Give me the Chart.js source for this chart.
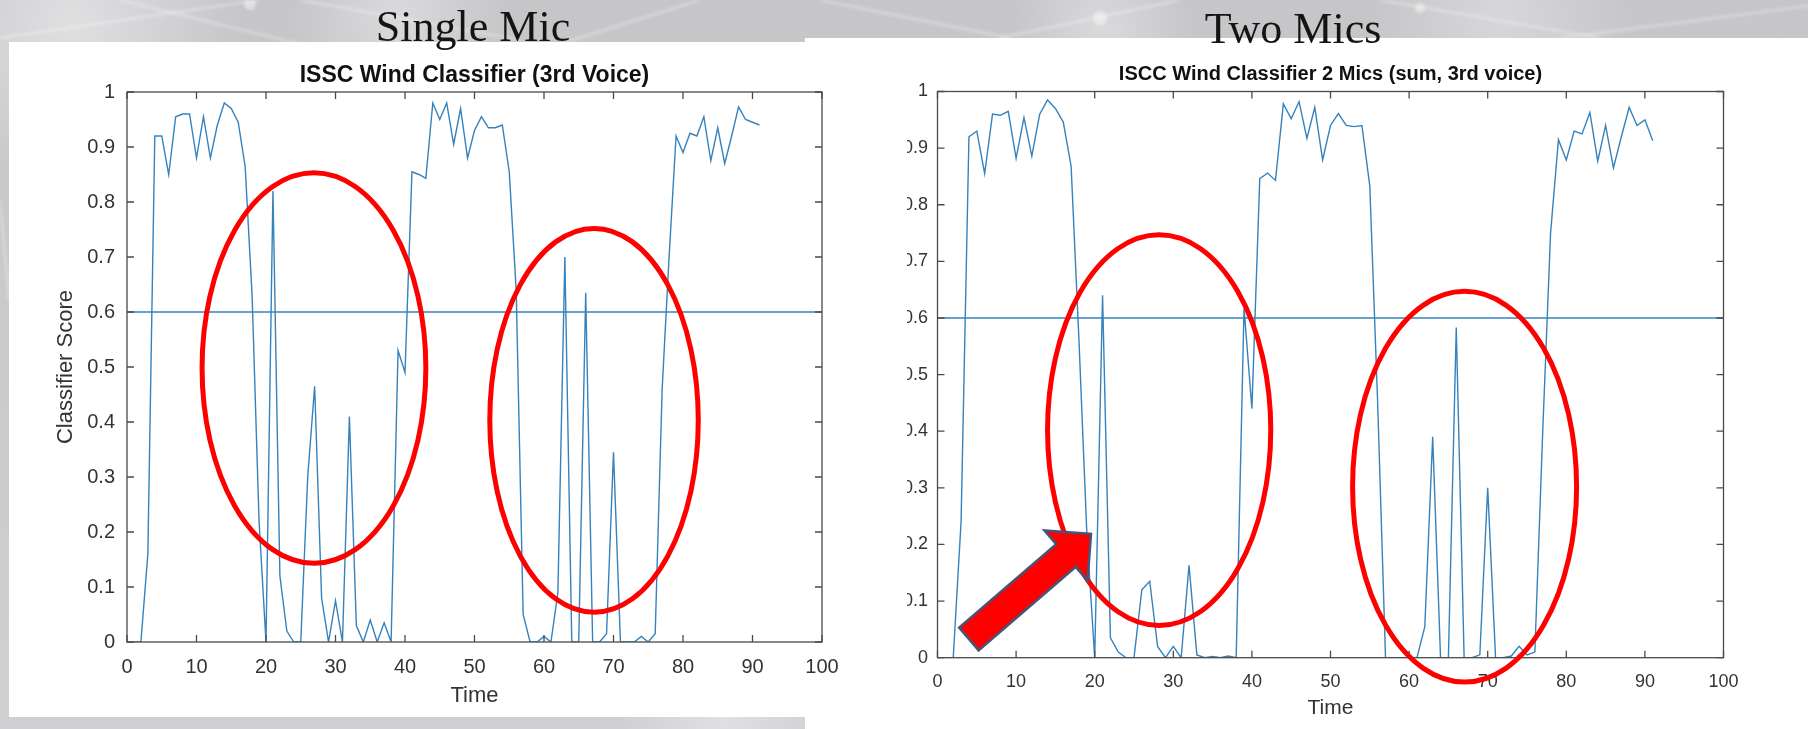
<!DOCTYPE html>
<html>
<head>
<meta charset="utf-8">
<script src="https://cdn.jsdelivr.net/npm/chart.js@4.4.1/dist/chart.umd.min.js"></script>
<style>
  html, body { margin: 0; padding: 0; width: 1808px; height: 729px; overflow: hidden; }
  body {
    position: relative;
    background:
      radial-gradient(circle at 4% 3%, rgba(255,255,255,0.45), rgba(255,255,255,0) 9%),
      radial-gradient(circle at 22% 2%, rgba(255,255,255,0.35), rgba(255,255,255,0) 7%),
      radial-gradient(circle at 61% 4%, rgba(255,255,255,0.35), rgba(255,255,255,0) 7%),
      radial-gradient(circle at 83% 2%, rgba(255,255,255,0.3), rgba(255,255,255,0) 8%),
      radial-gradient(circle at 40% 99%, rgba(255,255,255,0.35), rgba(255,255,255,0) 8%),
      linear-gradient(180deg, #c6c6c9 0%, #d0d0d3 100%);
  }
  #bg { position: absolute; left: 0; top: 0; z-index: 0; filter: blur(1.5px); }
  .panel { position: absolute; background: #ffffff; }
  #rightPanel { left: 805px; top: 38px; width: 1003px; height: 691px; z-index: 1; }
  #leftPanel { left: 9px; top: 42px; width: 898px; height: 675px; z-index: 2; }
  .panel canvas { position: absolute; left: 0; top: 0; }
  .heading {
    position: absolute; z-index: 3;
    font-family: "Liberation Serif", "DejaVu Serif", serif;
    font-size: 44px; line-height: 44px; color: #141414;
    white-space: nowrap; transform: translateX(-50%);
  }
</style>
</head>
<body>
<svg id="bg" width="1808" height="729">
  <g stroke="rgba(255,255,255,0.28)" stroke-width="3" fill="none">
    <line x1="0" y1="38" x2="260" y2="0"/>
    <line x1="120" y1="0" x2="300" y2="44"/>
    <line x1="300" y1="0" x2="520" y2="40"/>
    <line x1="560" y1="44" x2="700" y2="0"/>
    <line x1="820" y1="0" x2="1010" y2="38"/>
    <line x1="1000" y1="38" x2="1180" y2="0"/>
    <line x1="1380" y1="0" x2="1600" y2="38"/>
    <line x1="1560" y1="38" x2="1808" y2="6"/>
    <line x1="0" y1="200" x2="9" y2="300"/>
  </g>
  <g fill="rgba(255,255,255,0.45)">
    <circle cx="250" cy="4" r="6"/>
    <circle cx="1100" cy="18" r="7"/>
    <circle cx="1420" cy="8" r="5"/>
  </g>
</svg>

<div class="heading" style="left:473px; top:5px;">Single Mic</div>
<div class="heading" style="left:1293px; top:7px;">Two Mics</div>

<div id="rightPanel" class="panel"><canvas id="rightChart" width="1003" height="691"></canvas></div>
<div id="leftPanel" class="panel"><canvas id="leftChart" width="898" height="675"></canvas></div>

<script>
// ---------------- DATA ----------------
const timeSteps = [1,2,3,4,5,6,7,8,9,10,11,12,13,14,15,16,17,18,19,20,
  21,22,23,24,25,26,27,28,29,30,31,32,33,34,35,36,37,38,39,40,
  41,42,43,44,45,46,47,48,49,50,51,52,53,54,55,56,57,58,59,60,
  61,62,63,64,65,66,67,68,69,70,71,72,73,74,75,76,77,78,79,80,
  81,82,83,84,85,86,87,88,89,90,91];

const singleMicScores = [0,0,0.16,0.92,0.92,0.85,0.955,0.96,0.96,0.88,
  0.955,0.88,0.94,0.98,0.97,0.945,0.865,0.63,0.22,0,
  0.82,0.12,0.02,0,0,0.3,0.465,0.08,0,0.075,
  0,0.41,0.03,0,0.04,0,0.035,0,0.53,0.49,
  0.855,0.85,0.843,0.98,0.95,0.98,0.905,0.97,0.88,0.93,
  0.955,0.935,0.935,0.94,0.855,0.64,0.05,0,0,0.01,
  0,0.09,0.70,0,0,0.635,0,0,0.015,0.345,
  0,0,0,0.01,0,0.015,0.46,0.70,0.92,0.89,
  0.925,0.92,0.955,0.875,0.935,0.87,0.92,0.973,0.95,0.945,
  0.94];

const twoMicScores = [0,0,0.24,0.92,0.93,0.855,0.96,0.958,0.965,0.882,
  0.954,0.886,0.96,0.985,0.97,0.946,0.868,0.56,0.22,0,
  0.64,0.035,0.01,0,0,0.12,0.135,0.02,0,0.02,
  0,0.163,0.005,0,0.002,0,0.003,0,0.617,0.44,
  0.846,0.856,0.843,0.978,0.952,0.982,0.917,0.972,0.879,0.94,
  0.961,0.94,0.938,0.94,0.833,0.45,0,0,0,0,
  0,0.055,0.39,0,0,0.583,0,0,0.005,0.3,
  0,0,0.003,0.02,0.005,0.01,0.4,0.75,0.915,0.879,
  0.93,0.925,0.963,0.877,0.94,0.865,0.92,0.972,0.94,0.95,
  0.913];

const thresholdX = [0, 100];
const thresholdY = [0.6, 0.6];

const xTickValues = [0,10,20,30,40,50,60,70,80,90,100];
const xTickLabels = ['0','10','20','30','40','50','60','70','80','90','100'];
const yTickValues = [0,0.1,0.2,0.3,0.4,0.5,0.6,0.7,0.8,0.9,1];
const yTickLabels = ['0','0.1','0.2','0.3','0.4','0.5','0.6','0.7','0.8','0.9','1'];

// annotation shapes (in data units)
const leftEllipses = [ {cx:26.9, cy:0.498, rx:16.1, ry:0.355}, {cx:67.2, cy:0.403, rx:15.0, ry:0.349} ];
const rightEllipses = [ {cx:28.2, cy:0.402, rx:14.2, ry:0.345}, {cx:67.06, cy:0.302, rx:14.25, ry:0.345} ];
const rightArrow = { tailX: 4.0, tailY: 0.033, tipX: 19.53, tipY: 0.2185 };

// ---------------- STYLE ----------------
const FONT = '"Liberation Sans", Arial, Helvetica, sans-serif';
const LINE_COLOR = '#3582bd';
const AXIS_COLOR = '#4a4a4a';
const TICK_COLOR = '#333333';
const RED = '#ff0000';

function decorPlugin(cfg) {
  return {
    id: 'decor_' + cfg.id,
    afterDraw(chart) {
      const ctx = chart.ctx, a = chart.chartArea, xs = chart.scales.x, ys = chart.scales.y;
      ctx.save();
      ctx.strokeStyle = AXIS_COLOR; ctx.lineWidth = 1.3;
      ctx.strokeRect(a.left, a.top, a.right - a.left, a.bottom - a.top);
      const TL = 7;
      ctx.beginPath();
      xTickValues.forEach(v => {
        const p = xs.getPixelForValue(v);
        ctx.moveTo(p, a.bottom); ctx.lineTo(p, a.bottom - TL);
        ctx.moveTo(p, a.top); ctx.lineTo(p, a.top + TL);
      });
      yTickValues.forEach(v => {
        const p = ys.getPixelForValue(v);
        ctx.moveTo(a.left, p); ctx.lineTo(a.left + TL, p);
        ctx.moveTo(a.right, p); ctx.lineTo(a.right - TL, p);
      });
      ctx.stroke();
      const cx = (a.left + a.right) / 2;
      ctx.fillStyle = '#111111';
      ctx.textAlign = 'center'; ctx.textBaseline = 'middle';
      ctx.font = 'bold ' + cfg.titleSize + 'px ' + FONT;
      ctx.fillText(cfg.title, cx, cfg.titleY);
      ctx.fillStyle = TICK_COLOR;
      ctx.font = cfg.axisTitleSize + 'px ' + FONT;
      ctx.fillText('Time', cx, cfg.xTitleY);
      if (cfg.yTitle) {
        ctx.save();
        ctx.translate(cfg.yTitleX, (a.top + a.bottom) / 2);
        ctx.rotate(-Math.PI / 2);
        ctx.fillText(cfg.yTitle, 0, 0);
        ctx.restore();
      }
      ctx.strokeStyle = RED; ctx.lineWidth = 5;
      cfg.ellipses.forEach(e => {
        const px = xs.getPixelForValue(e.cx), py = ys.getPixelForValue(e.cy);
        const rx = Math.abs(xs.getPixelForValue(e.cx + e.rx) - px);
        const ry = Math.abs(ys.getPixelForValue(e.cy + e.ry) - py);
        ctx.beginPath(); ctx.ellipse(px, py, rx, ry, 0, 0, Math.PI * 2); ctx.stroke();
      });
      if (cfg.arrow) {
        const ar = cfg.arrow;
        const tx = xs.getPixelForValue(ar.tailX), ty = ys.getPixelForValue(ar.tailY);
        const hx = xs.getPixelForValue(ar.tipX), hy = ys.getPixelForValue(ar.tipY);
        const len = Math.hypot(hx - tx, hy - ty);
        const ux = (hx - tx) / len, uy = (hy - ty) / len;
        const nx = -uy, ny = ux;
        const sw = 15, hw = 33, hl = 33;
        const bx = hx - ux * hl, by = hy - uy * hl;
        ctx.beginPath();
        ctx.moveTo(tx + nx * sw, ty + ny * sw);
        ctx.lineTo(bx + nx * sw, by + ny * sw);
        ctx.lineTo(bx + nx * hw, by + ny * hw);
        ctx.lineTo(hx, hy);
        ctx.lineTo(bx - nx * hw, by - ny * hw);
        ctx.lineTo(bx - nx * sw, by - ny * sw);
        ctx.lineTo(tx - nx * sw, ty - ny * sw);
        ctx.closePath();
        ctx.fillStyle = RED; ctx.fill();
        ctx.strokeStyle = '#44557a'; ctx.lineWidth = 2.5; ctx.lineJoin = 'miter';
        ctx.stroke();
      }
      ctx.restore();
    }
  };
}

function makeChart(canvasId, cfg) {
  return new Chart(document.getElementById(canvasId), {
    type: 'line',
    data: {
      datasets: [
        { data: cfg.scores.map((v, i) => ({ x: timeSteps[i], y: v })),
          borderColor: LINE_COLOR, borderWidth: 1.4, pointRadius: 0, tension: 0, fill: false },
        { data: thresholdX.map((v, i) => ({ x: v, y: thresholdY[i] })),
          borderColor: LINE_COLOR, borderWidth: 1.4, pointRadius: 0, tension: 0, fill: false }
      ]
    },
    options: {
      responsive: false, animation: false, devicePixelRatio: 1,
      layout: { padding: cfg.padding },
      plugins: { legend: { display: false }, tooltip: { enabled: false }, title: { display: false } },
      scales: {
        x: {
          type: 'linear', min: 0, max: 100,
          grid: { display: false, drawTicks: false }, border: { display: false },
          afterBuildTicks: s => { s.ticks = xTickValues.map(v => ({ value: v })); },
          afterFit: s => { s.height = cfg.xHeight; },
          ticks: { autoSkip: false, maxRotation: 0, minRotation: 0, padding: cfg.xPad, color: TICK_COLOR,
                   font: { family: FONT, size: cfg.tickSize }, callback: (v, i) => xTickLabels[i] }
        },
        y: {
          type: 'linear', min: 0, max: 1,
          grid: { display: false, drawTicks: false }, border: { display: false },
          afterBuildTicks: s => { s.ticks = yTickValues.map(v => ({ value: v })); },
          afterFit: s => { s.width = cfg.yWidth; },
          ticks: { autoSkip: false, padding: cfg.yPad, color: TICK_COLOR,
                   font: { family: FONT, size: cfg.tickSize }, callback: (v, i) => yTickLabels[i] }
        }
      }
    },
    plugins: [decorPlugin(cfg)]
  });
}

makeChart('rightChart', {
  id: 'right', scores: twoMicScores,
  padding: { left: 0, right: 84.5, top: 53.5, bottom: 0 },
  xHeight: 71.3, yWidth: 132.5, xPad: 14, yPad: 9.5, tickSize: 18,
  title: 'ISCC Wind Classifier 2 Mics (sum, 3rd voice)', titleSize: 20, titleY: 36,
  axisTitleSize: 21, xTitleY: 670, yTitle: null,
  ellipses: rightEllipses, arrow: rightArrow
});

makeChart('leftChart', {
  id: 'left', scores: singleMicScores,
  padding: { left: 0, right: 85, top: 50, bottom: 0 },
  xHeight: 75, yWidth: 118, xPad: 13, yPad: 12, tickSize: 20,
  title: 'ISSC Wind Classifier (3rd Voice)', titleSize: 23, titleY: 34,
  axisTitleSize: 22, xTitleY: 654, yTitle: 'Classifier Score', yTitleX: 57,
  ellipses: leftEllipses, arrow: null
});
</script>
</body>
</html>
